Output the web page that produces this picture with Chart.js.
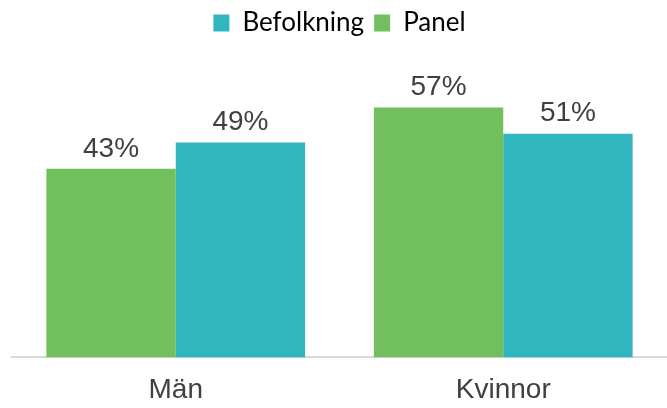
<!DOCTYPE html>
<html>
<head>
<meta charset="utf-8">
<script src="https://cdn.jsdelivr.net/npm/chart.js@4"></script>
<style>
  html, body { margin: 0; padding: 0; background: #fff; }
  #wrap { width: 667px; height: 408px; }
</style>
</head>
<body>
<div id="wrap"><canvas id="chart"></canvas></div>
<script>
// data
const categories = ['Män', 'Kvinnor'];
const panel = [43, 57];
const befolkning = [49, 51];

// draws "43%" etc above each bar
const barLabels = {
    id: 'barLabels',
    afterDatasetsDraw(chart) {
        const ctx = chart.ctx;
        ctx.save();
        ctx.font = '28px "Liberation Sans", Arial, sans-serif';
        ctx.fillStyle = '#404040';
        ctx.textAlign = 'center';
        ctx.textBaseline = 'bottom';
        chart.data.datasets.forEach((ds, i) => {
            chart.getDatasetMeta(i).data.forEach((bar, j) => {
                ctx.fillText(ds.data[j] + '%', bar.x, bar.y - 6);
            });
        });
        ctx.restore();
    }
};

new Chart(document.getElementById('chart'), {
    type: 'bar',
    data: {
        labels: categories,
        datasets: [
            { label: 'Panel', data: panel, backgroundColor: '#72bf5e' },
            { label: 'Befolkning', data: befolkning, backgroundColor: '#31b5be' }
        ]
    },
    options: {
        responsive: true,
        maintainAspectRatio: false,
        animation: false,
        layout: { padding: { left: 12, right: 0, top: 0, bottom: -7 } },
        datasets: { bar: { categoryPercentage: 0.79, barPercentage: 1 } },
        plugins: {
            legend: {
                reverse: true,
                labels: {
                    font: { family: 'Lato, "Open Sans", sans-serif', size: 26 },
                    color: '#000',
                    boxWidth: 16,
                    boxHeight: 17,
                    padding: 10
                }
            },
            tooltip: { enabled: false }
        },
        scales: {
            x: {
                grid: { display: false },
                border: { color: '#d9d9d9', width: 2 },
                ticks: {
                    font: { family: '"Liberation Sans", Arial, sans-serif', size: 28 },
                    color: '#404040',
                    padding: 8
                }
            },
            y: {
                display: false,
                min: 0,
                max: 71
            }
        }
    },
    plugins: [barLabels]
});
</script>
</body>
</html>
